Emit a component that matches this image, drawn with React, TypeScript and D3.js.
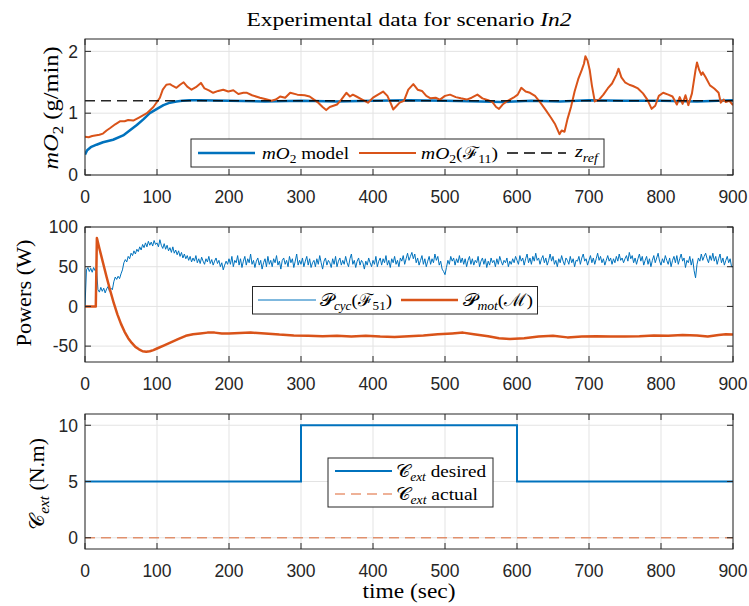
import React from 'react';
import * as d3 from 'd3';

// ---------- data ----------
const X_TICKS = [0, 100, 200, 300, 400, 500, 600, 700, 800, 900];
const O2_Y_TICKS = [0, 1, 2];
const P_Y_TICKS = [-50, 0, 50, 100];
const C_Y_TICKS = [0, 5, 10];

const MODEL_T = [0, 3, 8, 16, 25, 39, 53, 62, 72, 81, 90, 100, 109, 118, 127, 135, 145, 160, 200, 250, 300, 350, 400, 450, 500, 550, 580, 620, 660, 700, 750, 800, 850, 900];
const MODEL_V = [0.33, 0.40, 0.45, 0.49, 0.53, 0.57, 0.64, 0.72, 0.81, 0.90, 1.00, 1.07, 1.13, 1.17, 1.19, 1.20, 1.21, 1.21, 1.20, 1.19, 1.20, 1.19, 1.20, 1.21, 1.20, 1.19, 1.18, 1.20, 1.19, 1.21, 1.20, 1.20, 1.19, 1.21];

const MEAS_T = [0, 5, 10, 20, 25, 30, 35, 42, 49, 55, 60, 67, 75, 86, 95, 104, 108, 113, 118, 122, 127, 132, 137, 142, 148, 154, 161, 166, 172, 178, 185, 192, 199, 206, 213, 220, 225, 232, 243, 250, 259, 265, 271, 278, 285, 295, 305, 312, 318, 324, 330, 335, 340, 345, 350, 356, 363, 368, 372, 377, 385, 393, 400, 407, 414, 420, 425, 428, 433, 437, 443, 449, 456, 462, 468, 474, 480, 487, 493, 500, 507, 515, 522, 530, 537, 545, 552, 560, 566, 571, 575, 580, 587, 595, 601, 606, 612, 618, 625, 632, 640, 647, 653, 659, 662, 666, 670, 675, 680, 685, 690, 693, 695, 698, 701, 704, 708, 714, 720, 726, 732, 738, 741, 745, 750, 756, 761, 768, 775, 781, 787, 792, 797, 803, 810, 816, 822, 826, 830, 834, 838, 843, 848, 850, 853, 856, 858, 862, 868, 874, 880, 883, 887, 890, 895, 900];
const MEAS_V = [0.62, 0.61, 0.63, 0.65, 0.67, 0.72, 0.76, 0.82, 0.87, 0.87, 0.89, 0.88, 0.93, 1.00, 1.10, 1.25, 1.38, 1.46, 1.47, 1.44, 1.41, 1.46, 1.50, 1.43, 1.38, 1.42, 1.49, 1.40, 1.37, 1.33, 1.36, 1.38, 1.35, 1.37, 1.31, 1.33, 1.33, 1.29, 1.25, 1.23, 1.20, 1.22, 1.27, 1.25, 1.33, 1.30, 1.29, 1.27, 1.22, 1.17, 1.10, 1.05, 1.10, 1.12, 1.14, 1.22, 1.33, 1.27, 1.30, 1.27, 1.22, 1.17, 1.25, 1.30, 1.35, 1.28, 1.15, 1.06, 1.12, 1.17, 1.20, 1.38, 1.47, 1.38, 1.36, 1.28, 1.24, 1.25, 1.22, 1.28, 1.30, 1.26, 1.24, 1.22, 1.25, 1.30, 1.24, 1.21, 1.18, 1.10, 1.07, 1.14, 1.20, 1.25, 1.30, 1.41, 1.35, 1.33, 1.28, 1.18, 1.05, 0.93, 0.82, 0.66, 0.72, 0.70, 0.90, 1.10, 1.35, 1.55, 1.70, 1.80, 1.92, 1.85, 1.70, 1.45, 1.19, 1.22, 1.30, 1.40, 1.48, 1.62, 1.72, 1.58, 1.50, 1.46, 1.44, 1.40, 1.32, 1.22, 1.07, 1.12, 1.28, 1.33, 1.30, 1.27, 1.14, 1.26, 1.15, 1.29, 1.13, 1.32, 1.70, 1.82, 1.70, 1.62, 1.66, 1.58, 1.45, 1.40, 1.33, 1.17, 1.22, 1.18, 1.20, 1.13];

const ZREF = 1.2;

const PCYC_STEP = 2;
const PCYC_V = [
  0, 46, 49, 44, 48, 43, 49, 45, 47, 21,
  18, 24, 19, 23, 17, 22, 25, 19, 23, 21,
  31, 37, 34, 38, 35, 41, 46, 55, 59, 56,
  63, 60, 67, 64, 70, 66, 72, 69, 75, 71,
  78, 74, 80, 75, 82, 77, 81, 76, 83, 78,
  80, 75, 84, 77, 73, 79, 72, 77, 70, 74,
  68, 75, 67, 71, 65, 70, 63, 68, 61, 66,
  60, 64, 58, 63, 56, 61, 57, 64, 55, 60,
  54, 62, 57, 53, 60, 56, 63, 54, 59, 52,
  57, 61, 54, 58, 50, 55, 46, 52, 57, 53,
  60, 53, 63, 50, 58, 55, 64, 52, 60, 49,
  57, 63, 52, 60, 55, 66, 53, 58, 49, 57,
  61, 52, 58, 47, 55, 60, 50, 63, 53, 58,
  50, 60, 55, 64, 52, 57, 47, 58, 61, 53,
  58, 50, 63, 55, 60, 49, 57, 66, 52, 58,
  53, 61, 50, 57, 63, 52, 60, 49, 55, 58,
  50, 60, 53, 64, 55, 47, 57, 61, 52, 58,
  55, 49, 60, 53, 63, 50, 57, 61, 52, 58,
  53, 63, 55, 50, 60, 66, 53, 58, 49, 57,
  61, 52, 58, 55, 47, 57, 52, 61, 55, 50,
  58, 53, 63, 50, 57, 61, 52, 60, 55, 64,
  52, 58, 49, 60, 55, 63, 53, 58, 50, 61,
  57, 64, 53, 60, 67, 58, 63, 68, 60, 66,
  55, 61, 52, 58, 64, 53, 60, 50, 57, 63,
  53, 60, 55, 66, 58, 63, 52, 57, 47, 44,
  40, 49, 58, 53, 63, 57, 61, 52, 60, 55,
  64, 55, 61, 53, 60, 50, 58, 63, 53, 60,
  52, 58, 55, 63, 50, 57, 61, 53, 60, 49,
  57, 52, 61, 55, 58, 50, 60, 53, 63, 57,
  52, 58, 55, 61, 50, 57, 53, 60, 55, 63,
  58, 53, 64, 57, 61, 52, 60, 66, 55, 61,
  53, 63, 57, 67, 58, 61, 53, 60, 64, 55,
  61, 52, 58, 66, 57, 63, 53, 58, 50, 60,
  55, 64, 57, 52, 61, 58, 53, 63, 55, 60,
  50, 58, 57, 63, 53, 61, 66, 57, 60, 52,
  58, 64, 55, 61, 53, 60, 67, 58, 63, 55,
  60, 52, 58, 64, 57, 61, 53, 60, 55, 63,
  57, 66, 58, 61, 55, 60, 64, 57, 68, 60,
  64, 55, 61, 53, 60, 66, 57, 63, 52, 58,
  63, 53, 60, 50, 58, 64, 55, 61, 67, 57,
  52, 60, 55, 64, 58, 53, 61, 50, 58, 63,
  55, 64, 53, 60, 66, 57, 61, 49, 58, 55,
  63, 52, 60, 45, 36, 53, 61, 57, 66, 58,
  63, 67, 60, 55, 64, 58, 67, 57, 63, 53,
  60, 66, 55, 61, 52, 58, 63, 55, 60, 50,
  50
];

const PMOT_T = [0, 15, 16.5, 20, 25, 30, 35, 40, 45, 50, 55, 60, 65, 70, 75, 80, 85, 90, 95, 100, 110, 120, 130, 140, 150, 160, 170, 180, 190, 200, 215, 230, 250, 270, 290, 310, 330, 350, 370, 390, 410, 430, 450, 470, 490, 510, 525, 540, 560, 575, 590, 610, 630, 650, 670, 690, 710, 730, 750, 770, 790, 810, 830, 850, 865, 880, 890, 900];
const PMOT_V = [0, 0, 86, 73, 55, 37, 20, 4, -10, -22, -32, -40, -46, -51, -54, -56.5, -57, -56.5, -55, -53, -49, -45, -41, -37, -35, -34, -33, -33, -34, -34, -33.5, -33, -34, -35.5, -36.5, -37, -37.5, -37, -38, -37, -38, -38.5, -37.5, -36.5, -35, -34, -33, -35, -37.5, -40, -41, -40, -38, -37, -39, -38, -37.5, -38, -38, -37.5, -36.5, -37, -36, -36.5, -38, -36, -35, -35.5];

const CDES_T = [0, 300, 300, 600, 600, 900];
const CDES_V = [5, 5, 10, 10, 5, 5];
const CACT_T = [0, 900];
const CACT_V = [0, 0];

// ---------- style ----------
const BLUE = '#0072BD';
const ORANGE = '#D95319';
const AXC = '#262626';
const GRID = '#e3e3e3';
const SANS = '"Liberation Sans", Arial, Helvetica, sans-serif';
const SERIF = '"Liberation Serif", "DejaVu Serif", serif';

const X0 = 85, X1 = 733;
const x = d3.scaleLinear().domain([0, 900]).range([X0, X1]);

type Part = { t: string; i?: boolean; s?: boolean };

function Rich({ x: px, y: py, parts, size, anchor, transform, len }: { x: number; y: number; parts: Part[]; size: number; anchor?: string; transform?: string; len?: number }) {
  let shifted = false;
  const sub = size * 0.26;
  const kids = parts.map((p, k) => {
    let dy = 0;
    if (p.s && !shifted) { dy = sub; shifted = true; }
    else if (!p.s && shifted) { dy = -sub; shifted = false; }
    return (
      <tspan key={k} dy={dy || undefined} fontStyle={p.i ? 'italic' : 'normal'} fontSize={p.s ? size * 0.7 : size}>{p.t}</tspan>
    );
  });
  return (
    <text x={px} y={py} fontFamily={SERIF} fontSize={size} fill="#000" textAnchor={anchor || 'start'} transform={transform}
      textLength={len} lengthAdjust={len ? 'spacingAndGlyphs' : undefined}>{kids}</text>
  );
}

function Grid({ y, yTicks, top, bottom }: { y: d3.ScaleLinear<number, number>; yTicks: number[]; top: number; bottom: number }) {
  return (
    <g>
      {X_TICKS.map((t) => (
        <line key={'gx' + t} x1={x(t)} x2={x(t)} y1={top} y2={bottom} stroke={GRID} strokeWidth={1} />
      ))}
      {yTicks.map((t) => (
        <line key={'gy' + t} x1={X0} x2={X1} y1={y(t)} y2={y(t)} stroke={GRID} strokeWidth={1} />
      ))}
    </g>
  );
}

function Axes({ y, yTicks, top, bottom }: { y: d3.ScaleLinear<number, number>; yTicks: number[]; top: number; bottom: number }) {
  const tl = 6;
  return (
    <g>
      <rect x={X0} y={top} width={X1 - X0} height={bottom - top} fill="none" stroke={AXC} strokeWidth={1} />
      {X_TICKS.map((t) => (
        <g key={'tx' + t}>
          <line x1={x(t)} x2={x(t)} y1={bottom} y2={bottom - tl} stroke={AXC} />
          <line x1={x(t)} x2={x(t)} y1={top} y2={top + tl} stroke={AXC} />
          <text x={x(t)} y={bottom + 28} textAnchor="middle" fontFamily={SANS} fontSize={17.5} fill={AXC}>{t}</text>
        </g>
      ))}
      {yTicks.map((t) => (
        <g key={'ty' + t}>
          <line x1={X0} x2={X0 + tl} y1={y(t)} y2={y(t)} stroke={AXC} />
          <line x1={X1} x2={X1 - tl} y1={y(t)} y2={y(t)} stroke={AXC} />
          <text x={X0 - 7} y={y(t) + 6.3} textAnchor="end" fontFamily={SANS} fontSize={17.5} fill={AXC}>{t}</text>
        </g>
      ))}
    </g>
  );
}

function mkPath(ts: number[], vs: number[], y: d3.ScaleLinear<number, number>) {
  const pts = ts.map((t, i) => [t, vs[i]] as [number, number]);
  return d3.line<[number, number]>().x((d) => x(d[0])).y((d) => y(d[1]))(pts) || '';
}

export default function App() {
  const T1 = 39, B1 = 175;
  const y1 = d3.scaleLinear().domain([0, 2.2]).range([B1, T1]);
  const T2 = 227, B2 = 362;
  const y2 = d3.scaleLinear().domain([-70, 100]).range([B2, T2]);
  const T3 = 414, B3 = 549;
  const y3 = d3.scaleLinear().domain([-1, 11]).range([B3, T3]);

  const pcycT = PCYC_V.map((_, i) => i * PCYC_STEP);

  return (
    <svg width={749} height={606} style={{ position: 'absolute', left: 0, top: 0, background: '#fff' }} xmlns="http://www.w3.org/2000/svg">
      <rect x={0} y={0} width={749} height={606} fill="#fff" />
      <defs>
        <clipPath id="c1"><rect x={X0} y={T1} width={X1 - X0} height={B1 - T1} /></clipPath>
        <clipPath id="c2"><rect x={X0} y={T2} width={X1 - X0} height={B2 - T2} /></clipPath>
        <clipPath id="c3"><rect x={X0} y={T3} width={X1 - X0} height={B3 - T3} /></clipPath>
      </defs>

      {/* title */}
      <Rich x={409} y={25.5} size={19.5} anchor="middle" len={325} parts={[{ t: 'Experimental data for scenario ' }, { t: 'In2', i: true }]} />

      {/* ---------- panel 1 ---------- */}
      <Grid y={y1} yTicks={O2_Y_TICKS} top={T1} bottom={B1} />
      <g clipPath="url(#c1)">
        <path d={mkPath(MODEL_T, MODEL_V, y1)} fill="none" stroke={BLUE} strokeWidth={2.5} strokeLinejoin="round" />
        <path d={mkPath(MEAS_T, MEAS_V, y1)} fill="none" stroke={ORANGE} strokeWidth={2} strokeLinejoin="round" />
        <path d={mkPath([0, 900], [ZREF, ZREF], y1)} fill="none" stroke="#000" strokeOpacity={0.85} strokeWidth={1.5} strokeDasharray="10,6" />
      </g>
      <Axes y={y1} yTicks={O2_Y_TICKS} top={T1} bottom={B1} />
      <Rich x={0} y={0} size={20} anchor="middle" len={123} transform="translate(58,108) rotate(-90)" parts={[{ t: 'mO', i: true }, { t: '2', s: true }, { t: ' (g/min)' }]} />
      <g>
        <rect x={191} y={139} width={413} height={28} fill="#fff" stroke={AXC} strokeWidth={1} />
        <line x1={198} x2={255} y1={153} y2={153} stroke={BLUE} strokeWidth={2.5} />
        <Rich x={262} y={158.5} size={17.5} len={87} parts={[{ t: 'mO', i: true }, { t: '2', s: true }, { t: ' model' }]} />
        <line x1={359} x2={416} y1={153} y2={153} stroke={ORANGE} strokeWidth={2} />
        <Rich x={421} y={158.5} size={17.5} len={77} parts={[{ t: 'mO', i: true }, { t: '2', s: true }, { t: '(' }, { t: 'ℱ' }, { t: '11', s: true }, { t: ')' }]} />
        <line x1={507} x2={566} y1={153} y2={153} stroke="#000" strokeWidth={1.5} strokeDasharray="11,6" />
        <Rich x={575} y={157} size={17.5} len={23} parts={[{ t: 'z', i: true }, { t: 'ref', i: true, s: true }]} />
      </g>

      {/* ---------- panel 2 ---------- */}
      <Grid y={y2} yTicks={P_Y_TICKS} top={T2} bottom={B2} />
      <g clipPath="url(#c2)">
        <path d={mkPath(pcycT, PCYC_V, y2)} fill="none" stroke={BLUE} strokeWidth={1} strokeLinejoin="round" />
        <path d={mkPath(PMOT_T, PMOT_V, y2)} fill="none" stroke={ORANGE} strokeWidth={2.5} strokeLinejoin="round" />
      </g>
      <Axes y={y2} yTicks={P_Y_TICKS} top={T2} bottom={B2} />
      <Rich x={0} y={0} size={20} anchor="middle" len={107} transform="translate(31,293) rotate(-90)" parts={[{ t: 'Powers (W)' }]} />
      <g>
        <rect x={252.5} y={286.5} width={285} height={27.5} fill="#fff" stroke={AXC} strokeWidth={1} />
        <line x1={258} x2={316} y1={300} y2={300} stroke={BLUE} strokeWidth={1} />
        <Rich x={320} y={305.5} size={17.5} len={72} parts={[{ t: '𝒫' }, { t: 'cyc', i: true, s: true }, { t: '(' }, { t: 'ℱ' }, { t: '51', s: true }, { t: ')' }]} />
        <line x1={401} x2={458} y1={300} y2={300} stroke={ORANGE} strokeWidth={2.5} />
        <Rich x={463} y={305.5} size={17.5} len={70} parts={[{ t: '𝒫' }, { t: 'mot', i: true, s: true }, { t: '(' }, { t: 'ℳ' }, { t: ')' }]} />
      </g>

      {/* ---------- panel 3 ---------- */}
      <Grid y={y3} yTicks={C_Y_TICKS} top={T3} bottom={B3} />
      <g clipPath="url(#c3)">
        <path d={mkPath(CDES_T, CDES_V, y3)} fill="none" stroke={BLUE} strokeWidth={2} />
        <path d={mkPath(CACT_T, CACT_V, y3)} fill="none" stroke={ORANGE} strokeOpacity={0.6} strokeWidth={1.5} strokeDasharray="10,6" />
      </g>
      <Axes y={y3} yTicks={C_Y_TICKS} top={T3} bottom={B3} />
      <Rich x={0} y={0} size={20} anchor="middle" len={92} transform="translate(44,484) rotate(-90)" parts={[{ t: '𝒞' }, { t: 'ext', i: true, s: true }, { t: '  (N.m)' }]} />
      <g>
        <rect x={328} y={458} width={165} height={49} fill="#fff" stroke={AXC} strokeWidth={1} />
        <line x1={335} x2={392} y1={471} y2={471} stroke={BLUE} strokeWidth={2} />
        <Rich x={396} y={476.5} size={17.5} len={90} parts={[{ t: '𝒞' }, { t: 'ext', i: true, s: true }, { t: ' desired' }]} />
        <line x1={335} x2={392} y1={494} y2={494} stroke={ORANGE} strokeOpacity={0.6} strokeWidth={1.5} strokeDasharray="10,6" />
        <Rich x={396} y={499.5} size={17.5} len={82} parts={[{ t: '𝒞' }, { t: 'ext', i: true, s: true }, { t: ' actual' }]} />
      </g>

      <Rich x={409} y={598} size={20} anchor="middle" len={93} parts={[{ t: 'time (sec)' }]} />
    </svg>
  );
}
